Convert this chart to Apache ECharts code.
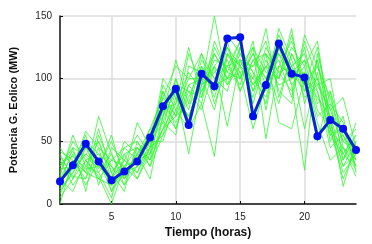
<!DOCTYPE html>
<html>
<head>
	<meta charset="UTF-8">
	<title>Potencia G. Eolico</title>
	<script src="https://cdn.jsdelivr.net/npm/echarts@6/dist/echarts.min.js"></script>
</head>
<body style="margin:0; background:#fff;">
	<div id="container" style="width:372px; height:244px;"></div>
	<script type="text/javascript">
		// horas 1..24
		var horas = [1, 2, 3, 4, 5, 6, 7, 8, 9, 10, 11, 12, 13, 14, 15, 16, 17, 18, 19, 20, 21, 22, 23, 24];
		var xTicks = [5, 10, 15, 20];
		// curva azul (pronostico)
		var pronostico = [18, 31, 48, 34, 19, 26, 34, 53, 78, 92, 63, 104, 94, 132, 133, 70, 95, 128, 104, 101, 54, 67, 60, 43];
		// escenarios verdes
		var esc01 = [30, 42, 25, 70, 40, 20, 38, 55, 90, 70, 120, 95, 150, 95, 110, 85, 120, 100, 140, 80, 115, 60, 45, 30];
		var esc02 = [5, 20, 35, 22, 0, 30, 45, 35, 60, 100, 65, 110, 85, 120, 100, 130, 75, 125, 95, 110, 70, 80, 40, 55];
		var esc03 = [45, 30, 50, 40, 30, 15, 30, 45, 75, 60, 90, 85, 120, 100, 125, 95, 110, 80, 120, 95, 125, 65, 30, 40];
		var esc04 = [20, 40, 15, 35, 10, 35, 25, 50, 50, 85, 70, 100, 95, 130, 90, 115, 100, 135, 110, 60, 105, 50, 70, 25];
		var esc05 = [10, 25, 40, 30, 20, 45, 35, 40, 95, 75, 100, 120, 80, 110, 115, 90, 125, 105, 90, 125, 80, 90, 55, 35];
		var esc06 = [35, 15, 30, 50, 25, 10, 50, 30, 70, 115, 80, 90, 110, 95, 120, 100, 85, 120, 105, 90, 100, 70, 35, 65];
		var esc07 = [25, 50, 35, 20, 15, 25, 40, 60, 65, 55, 110, 105, 90, 125, 100, 120, 95, 110, 130, 100, 90, 55, 60, 30];
		var esc08 = [0, 35, 20, 45, 35, 30, 20, 45, 55, 90, 60, 80, 125, 105, 130, 80, 115, 95, 100, 115, 75, 60, 20, 45];
		var esc09 = [40, 20, 45, 25, 5, 40, 45, 35, 85, 70, 95, 100, 75, 120, 105, 110, 130, 90, 80, 135, 110, 75, 50, 40];
		var esc10 = [15, 45, 10, 55, 30, 20, 30, 55, 70, 100, 75, 115, 100, 90, 125, 105, 90, 140, 115, 85, 95, 100, 45, 22];
		var esc11 = [28, 30, 55, 15, 45, 35, 55, 40, 60, 80, 105, 90, 115, 110, 95, 125, 105, 100, 125, 110, 130, 65, 30, 50];
		var esc12 = [20, 10, 35, 40, 20, 50, 40, 55, 80, 65, 85, 110, 95, 100, 115, 95, 110, 120, 95, 27, 120, 80, 65, 35];
		var esc13 = [32, 38, 28, 30, 50, 25, 65, 45, 100, 85, 70, 95, 105, 115, 90, 115, 120, 105, 110, 120, 90, 45, 55, 30];
		var esc14 = [12, 25, 45, 35, 15, 30, 35, 50, 65, 95, 90, 75, 110, 125, 110, 100, 140, 85, 120, 100, 85, 70, 14, 50];
		var esc15 = [38, 22, 20, 60, 25, 40, 20, 40, 75, 80, 125, 85, 130, 105, 100, 120, 100, 115, 85, 130, 100, 55, 40, 28];
		var esc16 = [22, 55, 30, 25, 40, 15, 45, 30, 55, 75, 60, 105, 90, 135, 120, 105, 80, 125, 110, 95, 110, 85, 50, 60];
		var esc17 = [8, 30, 58, 45, 10, 25, 30, 60, 85, 110, 100, 100, 120, 100, 105, 60, 95, 130, 100, 105, 65, 35, 45, 35];
		var esc18 = [42, 35, 25, 20, 35, 45, 50, 35, 60, 70, 80, 120, 100, 110, 130, 90, 110, 100, 135, 90, 115, 60, 25, 40];
		var esc19 = [18, 28, 40, 50, 20, 35, 25, 45, 90, 60, 95, 80, 38, 120, 110, 125, 52, 110, 105, 115, 95, 75, 85, 45];
		var esc20 = [30, 45, 38, 28, 55, 20, 40, 20, 70, 90, 40, 95, 110, 62, 115, 110, 120, 65, 60, 100, 50, 90, 35, 55];
		var escenarios = [esc01, esc02, esc03, esc04, esc05, esc06, esc07, esc08, esc09, esc10,
			esc11, esc12, esc13, esc14, esc15, esc16, esc17, esc18, esc19, esc20];

		function pares(valores) {
			var out = [];
			for (var i = 0; i < horas.length; i++) {
				out.push([horas[i], valores[i]]);
			}
			return out;
		}

		var series = [];
		for (var k = 0; k < escenarios.length; k++) {
			series.push({
				type: 'line',
				data: pares(escenarios[k]),
				showSymbol: false,
				silent: true,
				lineStyle: { color: '#33f533', width: 0.8 },
				z: 2
			});
		}
		series.push({
			type: 'line',
			data: pares(pronostico),
			symbol: 'circle',
			symbolSize: 8,
			itemStyle: { color: '#0010f0' },
			lineStyle: { color: '#0a28d0', width: 3 },
			z: 5
		});

		var myChart = echarts.init(document.getElementById('container'), null, { renderer: 'canvas' });
		var option = {
			animation: false,
			backgroundColor: '#fff',
			grid: { left: 60, right: 16, top: 16, bottom: 40 },
			textStyle: { fontFamily: 'Liberation Sans, Arial, sans-serif' },
			xAxis: {
				type: 'value',
				min: 1,
				max: 24,
				name: 'Tiempo (horas)',
				nameLocation: 'middle',
				nameGap: 19,
				nameTextStyle: { fontSize: 12, fontWeight: 'bold', color: '#111' },
				axisLine: { onZero: false, lineStyle: { color: '#111', width: 1.5 } },
				axisTick: { inside: true, length: 3, customValues: xTicks, lineStyle: { color: '#111' } },
				axisLabel: { customValues: xTicks, fontSize: 10, color: '#222', margin: 8 },
				splitLine: { show: true, lineStyle: { color: '#dcdcdc', width: 1.5 } }
			},
			yAxis: {
				type: 'value',
				min: 0,
				max: 150,
				interval: 50,
				name: 'Potencia G. Eolico (MW)',
				nameLocation: 'middle',
				nameGap: 41,
				nameTextStyle: { fontSize: 11, fontWeight: 'bold', color: '#111' },
				axisLine: { show: true, lineStyle: { color: '#111', width: 1.5 } },
				axisTick: { show: true, inside: true, length: 3, lineStyle: { color: '#111' } },
				axisLabel: { fontSize: 10, color: '#222', margin: 8 },
				splitLine: { show: true, lineStyle: { color: '#dcdcdc', width: 1.5 } }
			},
			series: series
		};
		myChart.setOption(option);
	</script>
</body>
</html>
